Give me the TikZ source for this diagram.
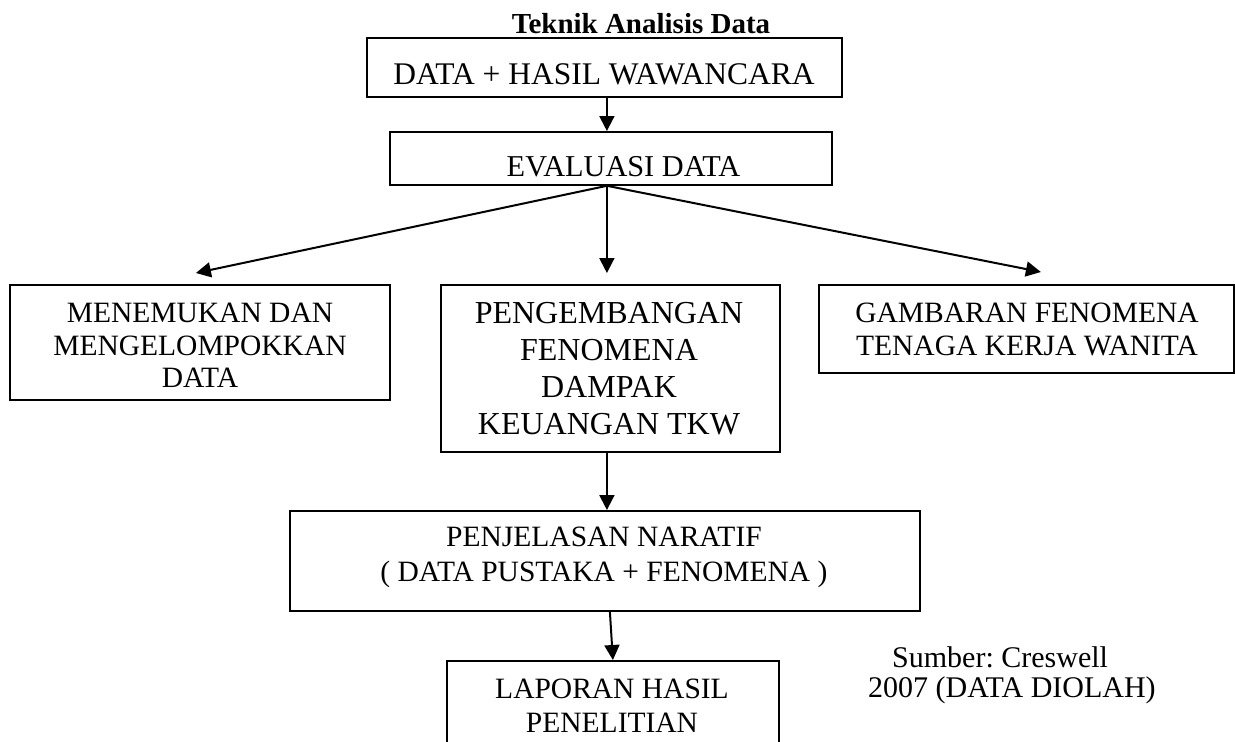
\documentclass[tikz,border=0pt]{standalone}
\usepackage{fontspec}
\setmainfont{Liberation Serif}
\usetikzlibrary{arrows.meta}
\frenchspacing
\begin{document}
\begin{tikzpicture}[x=1pt,y=-1pt,
  box/.style={draw, line width=1.8pt, inner sep=0pt, anchor=north west},
  txt/.style={inner sep=0pt, align=center, font=\fontsize{29.5}{33}\selectfont},
  arr/.style={line width=2pt, -{Triangle[length=15pt,width=15pt]}}]
\clip (0,0) rectangle (1235,742);
\fill[white] (0,0) rectangle (1235,742);
% title
\node[inner sep=0pt, anchor=base, font=\bfseries\fontsize{29}{33}\selectfont] (title) at (641,33) {Teknik Analisis Data};
% boxes
\node[box, minimum width=475pt, minimum height=59pt] (b1) at (366,37) {};
\node[txt, font=\fontsize{31.5}{34}\selectfont] (t1) at (604,74.5) {DATA + HASIL WAWANCARA};
\node[box, minimum width=442pt, minimum height=53pt] (b2) at (389,131) {};
\node[txt, font=\fontsize{30.3}{34}\selectfont] (t2) at (623.5,166.5) {EVALUASI DATA};
\node[box, minimum width=380pt, minimum height=115pt] (lb) at (9,284) {};
\node[txt, font=\fontsize{29.5}{32.5}\selectfont] (tl) at (200,345.5) {MENEMUKAN DAN\\MENGELOMPOKKAN\\DATA};
\node[box, minimum width=339pt, minimum height=167pt] (cb) at (440,284) {};
\node[txt, font=\fontsize{32}{37}\selectfont] (tc) at (609,369) {PENGEMBANGAN\\FENOMENA\\DAMPAK\\KEUANGAN TKW};
\node[box, minimum width=415pt, minimum height=88pt] (rb) at (818,284) {};
\node[txt] (tr) at (1027,329.5) {GAMBARAN FENOMENA\\TENAGA KERJA WANITA};
\node[box, minimum width=630pt, minimum height=100pt] (pj) at (289,510) {};
\node[txt, font=\fontsize{29.5}{35}\selectfont] (tp) at (604,557.5) {PENJELASAN NARATIF\\( DATA PUSTAKA + FENOMENA )};
\node[box, minimum width=332pt, minimum height=120pt] (lp) at (446,660) {};
\node[txt, font=\fontsize{29.5}{34}\selectfont] (tlp) at (612,705.5) {LAPORAN HASIL\\PENELITIAN};
% source
\node[inner sep=0pt, anchor=north west, align=left, font=\fontsize{30}{29.5}\selectfont] (src) at (868,646.5) {\hspace*{24pt}Sumber: Creswell\\2007 (DATA DIOLAH)};
% connectors
\draw[arr] ([xshift=2.5pt]b1.south) -- ([xshift=-4pt]b2.north);
\draw[arr] ([xshift=-4pt]b2.south) -- ([xshift=-4pt,yshift=11pt]lb.north);
\draw[arr] ([xshift=-4pt]b2.south) -- ([xshift=-3.5pt,yshift=11pt]cb.north);
\draw[arr] ([xshift=-4pt]b2.south) -- ([xshift=14.5pt,yshift=12pt]rb.north);
\draw[arr] ([xshift=-3.5pt]cb.south) -- ([xshift=2pt]pj.north);
\draw[arr] ([xshift=5pt]pj.south) -- (lp.north);
\end{tikzpicture}
\end{document}
